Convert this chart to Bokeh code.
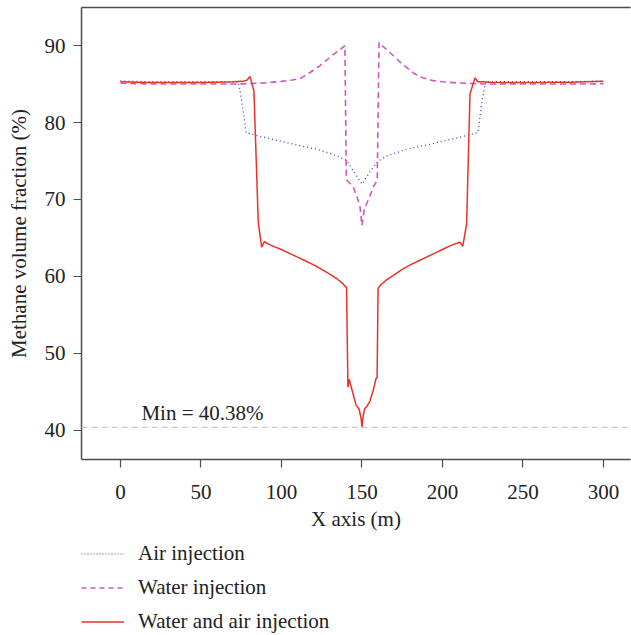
from bokeh.plotting import figure
from bokeh.layouts import column
from bokeh.models import (Range1d, LinearAxis, FixedTicker, Legend, LegendItem, Span, Label)
from bokeh.embed import file_html
from bokeh.resources import INLINE

# ---------------- data ----------------
air_x = [0, 10, 20, 30, 40, 50, 60, 70, 73.2, 75.3, 78, 85, 95, 105, 111.5, 118, 124, 130, 135, 140.5, 145, 150,
         155, 159.5, 165, 170, 176, 182, 188.5, 195, 205, 215, 222, 224.7, 226.8, 230, 240, 250, 260, 270, 280, 290, 300]
air_y = [85.4, 85.35, 85.3, 85.3, 85.3, 85.3, 85.3, 85.3, 85.3, 82.9, 78.7, 78.3, 77.8, 77.3, 77.0, 76.7, 76.4, 76.0, 75.6, 75.06, 73.6, 72.0,
         73.6, 74.9, 75.6, 76.0, 76.4, 76.7, 77.0, 77.3, 77.8, 78.3, 78.7, 82.9, 85.3, 85.3, 85.3, 85.3, 85.3, 85.3, 85.3, 85.35, 85.4]

water_x = [0, 10, 20, 30, 40, 50, 60, 70, 80, 84.6, 90, 100, 106, 111.5, 117.7, 124, 132.5, 136, 139.4, 140.3, 142, 144.6, 147, 148.8, 150,
           151.5, 153, 155, 157.5, 159.5, 160.6, 163, 167.4, 175, 182.9, 188, 194, 200, 208.8, 220, 230, 250, 270, 290, 300]
water_y = [85.1, 85.05, 85.0, 85.0, 85.0, 85.0, 85.0, 85.0, 85.05, 85.1, 85.15, 85.35, 85.5, 85.7, 86.5, 87.4, 88.9, 89.4, 90.0, 72.6, 72.2, 71.6, 70.3, 69.0, 66.6,
           68.8, 69.5, 70.5, 71.8, 72.5, 90.4, 89.9, 89.1, 87.6, 86.3, 85.8, 85.45, 85.3, 85.15, 85.05, 85.0, 85.0, 85.0, 85.0, 85.05]

mix_x = [0, 10, 20, 30, 40, 50, 60, 70, 76, 78.5, 80.4, 82.9, 85.6, 87.7, 89.3, 92, 95, 100, 105, 110, 115, 120, 125, 130, 135, 138,
         139.6, 140.4, 141.3, 142.1, 144, 146.3, 148.3, 149.5, 150, 150.5, 151.7, 153, 155, 157, 158.7, 159.4, 160, 161.2, 165, 170,
         175, 180, 185, 190, 195, 200, 205, 209, 210.9, 212.6, 215, 217.1, 220.2, 222, 225, 230, 240, 250, 260, 270, 280, 290, 300]
mix_y = [85.3, 85.25, 85.2, 85.2, 85.2, 85.2, 85.25, 85.3, 85.35, 85.5, 86.0, 84.1, 67.0, 63.8, 64.5, 64.2, 63.9, 63.5, 63.0, 62.5, 62.0, 61.5, 60.9, 60.3, 59.6, 59.1,
         58.7, 58.6, 45.6, 46.6, 45.1, 43.3, 42.7, 41.5, 40.38, 41.5, 42.8, 43.1, 43.8, 45.2, 46.7, 46.8, 58.4, 58.8, 59.5, 60.2,
         60.9, 61.5, 62.0, 62.5, 63.0, 63.5, 64.0, 64.3, 64.45, 63.9, 66.8, 83.7, 85.8, 85.3, 85.3, 85.25, 85.2, 85.2, 85.2, 85.25, 85.25, 85.3, 85.35]

min_value = 40.38
min_label = "Min = 40.38%"
x_ticks = [0, 50, 100, 150, 200, 250, 300]
y_ticks = [40, 50, 60, 70, 80, 90]
series_names = ["Air injection", "Water injection", "Water and air injection"]

FONT = "Liberation Serif"
FS = "21px"
AX = "#4d4d4d"
TXT = "#222222"
C_AIR, C_WATER, C_MIX = "#3f3fc4", "#d255c2", "#e8322a"

p = figure(width=631, height=538, output_backend="svg", toolbar_location=None,
           x_range=Range1d(-24.2, 316.8), y_range=Range1d(36.2, 94.95),
           min_border_left=81, min_border_right=1, min_border_top=7, min_border_bottom=79)
p.background_fill_color = "white"
p.border_fill_color = "white"
p.outline_line_color = None
p.grid.visible = False

for ax in (p.xaxis[0], p.yaxis[0]):
    ax.axis_line_color = AX
    ax.axis_line_width = 1.5
    ax.major_tick_line_color = AX
    ax.major_tick_line_width = 1.2
    ax.major_tick_out = 8
    ax.major_tick_in = 0
    ax.minor_tick_line_color = None
    ax.major_label_text_font = FONT
    ax.major_label_text_font_size = FS
    ax.major_label_text_color = TXT
    ax.axis_label_text_font = FONT
    ax.axis_label_text_font_size = FS
    ax.axis_label_text_font_style = "normal"
    ax.axis_label_text_color = TXT

p.xaxis[0].ticker = FixedTicker(ticks=x_ticks)
p.yaxis[0].ticker = FixedTicker(ticks=y_ticks)
p.xaxis[0].axis_label = "X axis (m)"
p.yaxis[0].axis_label = "Methane volume fraction (%)"
p.xaxis[0].major_label_standoff = 17
p.xaxis[0].axis_label_standoff = 5
p.yaxis[0].major_label_standoff = 8
p.yaxis[0].axis_label_standoff = 11

top_axis = LinearAxis(axis_line_color=AX, axis_line_width=1.5, major_tick_line_color=None,
                      minor_tick_line_color=None, major_label_text_font_size="0px",
                      major_label_standoff=0, major_tick_out=0, major_tick_in=0,
                      ticker=FixedTicker(ticks=[]))
p.add_layout(top_axis, "above")

p.add_layout(Span(location=min_value, dimension="width", line_color="#c8c8c8",
                  line_width=1.2, line_dash="6 4"))
p.add_layout(Label(x=13, y=42.3, text=min_label, text_font=FONT, text_font_size=FS,
                   text_color=TXT, text_baseline="alphabetic"))

p.line(air_x, air_y, line_color=C_AIR, line_width=1.3, line_dash="1 3")
p.line(water_x, water_y, line_color=C_WATER, line_width=1.6, line_dash="6 4")
p.line(mix_x, mix_y, line_color=C_MIX, line_width=1.5)

# ---------------- legend panel below ----------------
# the same series are plotted here, but the ranges keep them out of view:
# only their legend glyphs are shown
lg = figure(width=631, height=97, output_backend="svg", toolbar_location=None,
            x_range=Range1d(1000, 1001), y_range=Range1d(1000, 1001),
            min_border_left=81, min_border_right=0, min_border_top=0, min_border_bottom=0)
lg.outline_line_color = None
lg.grid.visible = False
lg.axis.visible = False
lg.background_fill_color = "white"
lg.border_fill_color = "white"
e_air = lg.line(air_x, air_y, line_color=C_AIR, line_width=1.2, line_dash="1 2")
e_water = lg.line(water_x, water_y, line_color=C_WATER, line_width=1.6, line_dash="5 4")
e_mix = lg.line(mix_x, mix_y, line_color=C_MIX, line_width=1.5)

legend = Legend(items=[LegendItem(label=series_names[0], renderers=[e_air]),
                       LegendItem(label=series_names[1], renderers=[e_water]),
                       LegendItem(label=series_names[2], renderers=[e_mix])],
                location=(0, 1), orientation="vertical",
                border_line_color=None, background_fill_alpha=0,
                padding=0, margin=0, spacing=9,
                glyph_width=43, glyph_height=25, label_height=25, label_standoff=14,
                label_text_font=FONT, label_text_font_size=FS, label_text_color=TXT)
lg.add_layout(legend, "center")

layout = column(p, lg, spacing=0)
open("out.html", "w").write(file_html(layout, INLINE))
